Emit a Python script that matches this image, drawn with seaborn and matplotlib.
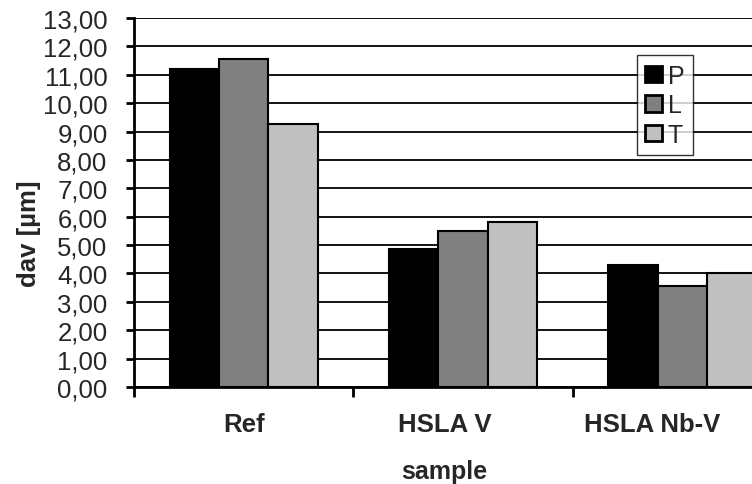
import matplotlib
matplotlib.use("Agg")
import matplotlib.pyplot as plt
import seaborn as sns
import pandas as pd
from matplotlib.ticker import FixedLocator, FuncFormatter, NullFormatter
from matplotlib.transforms import blended_transform_factory

# Average grain size per sample and measuring direction
samples = ["Ref", "HSLA V", "HSLA Nb-V"]
directions = ["P", "L", "T"]
dav_P = [11.22, 4.86, 4.30]
dav_L = [11.57, 5.50, 3.57]
dav_T = [9.26, 5.80, 4.01]
y_ticks = list(range(0, 14))

colors = {"P": "#000000", "L": "#808080", "T": "#c0c0c0"}
# horizontal nudge of each category label (in category units)
label_shift = [0.0, -0.085, -0.14]

rows = []
for d, vals in zip(directions, [dav_P, dav_L, dav_T]):
    for s, v in zip(samples, vals):
        rows.append({"sample": s, "direction": d, "dav": v})
df = pd.DataFrame(rows)

sns.set_theme(style="white")
plt.rcParams["font.family"] = ["Liberation Sans", "DejaVu Sans"]

fig = plt.figure(figsize=(7.52, 4.85), dpi=100)
W, H = 752, 485
left, right, top, bottom = 134, 792, 19, 388
ax = fig.add_axes([left / W, 1 - bottom / H, (right - left) / W, (bottom - top) / H])

sns.barplot(data=df, x="sample", y="dav", hue="direction", order=samples,
            hue_order=directions, palette=colors, width=0.675,
            edgecolor="black", linewidth=1.5, saturation=1, ax=ax, zorder=3)

ax.set_xlim(-0.5, 2.5)
ax.set_ylim(0, 13)
ax.yaxis.set_major_locator(FixedLocator(y_ticks))
ax.yaxis.set_major_formatter(FuncFormatter(lambda v, p: f"{v:.2f}".replace(".", ",")))
ax.grid(axis="y", color="black", linewidth=1.3, zorder=0)
ax.set_axisbelow(True)

for side in ["top", "right"]:
    ax.spines[side].set_visible(False)
for side in ["left", "bottom"]:
    ax.spines[side].set_color("black")
    ax.spines[side].set_linewidth(2.0)

ax.tick_params(axis="y", which="major", left=True, length=6, width=2.0,
               color="black", pad=13, labelsize=18.5)

# tick marks on the category boundaries, labels drawn under each group
ax.xaxis.set_minor_locator(FixedLocator([-0.5, 0.5, 1.5, 2.5]))
ax.xaxis.set_major_formatter(NullFormatter())
ax.tick_params(axis="x", which="major", length=0)
ax.tick_params(axis="x", which="minor", bottom=True, length=7, width=2.0, color="black")
trans = blended_transform_factory(ax.transData, ax.transAxes)
for i, (name, dx) in enumerate(zip(samples, label_shift)):
    ax.text(i + dx, -0.1, name, transform=trans, ha="center", va="center",
            fontsize=18.5, fontweight="bold")

ax.set_xlabel("sample", fontsize=18, fontweight="bold")
ax.xaxis.set_label_coords(0.471, -0.228)
ax.xaxis.label.set_verticalalignment("center")
ax.set_ylabel("dav [µm]", fontsize=18.5, fontweight="bold")
ax.yaxis.set_label_coords(-0.16, 0.419)
ax.yaxis.label.set_verticalalignment("center")

leg = ax.legend(loc="upper left", bbox_to_anchor=(0.764, 0.9), frameon=True,
                fancybox=False, shadow=False, fontsize=18, handlelength=0.65,
                handleheight=0.65, handletextpad=0.25, labelspacing=0.22,
                borderpad=0.35, borderaxespad=0)
leg.get_frame().set_edgecolor("black")
leg.get_frame().set_linewidth(1.0)
for patch in leg.get_patches():
    patch.set_linewidth(2.0)
leg.set_zorder(5)

fig.savefig("out.png", dpi=100)
